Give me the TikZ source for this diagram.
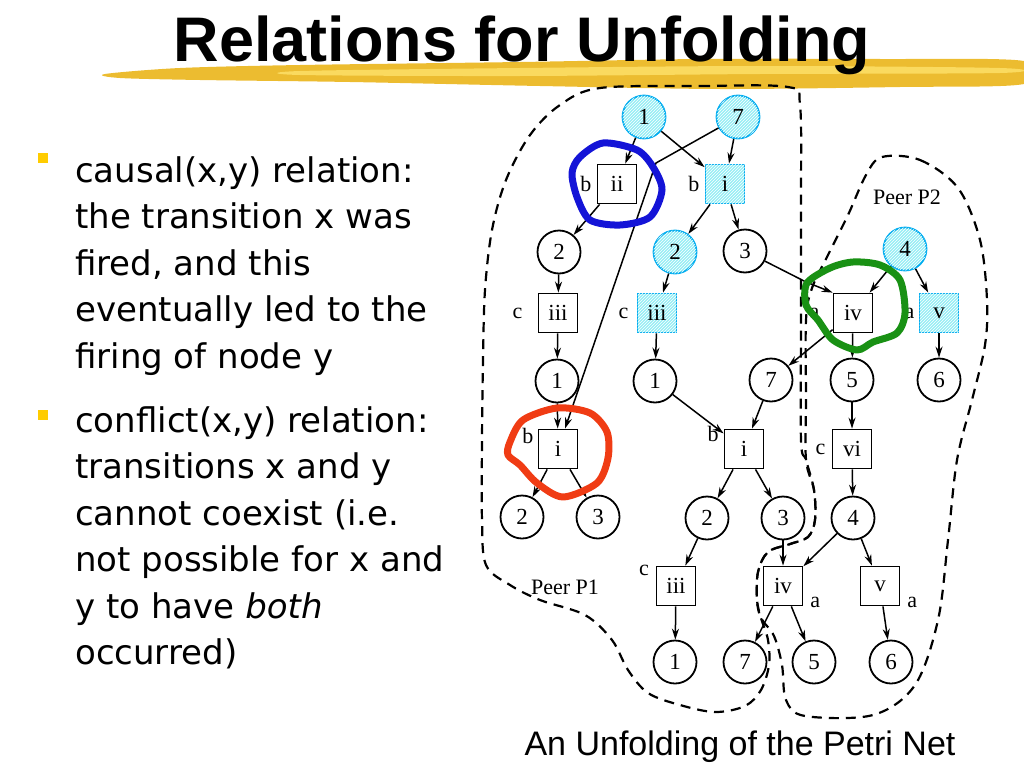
\documentclass[tikz,border=0pt]{standalone}
\usepackage{fontspec}
\setmainfont{Liberation Serif}
\newfontfamily\titlefont{Liberation Sans}
\newfontfamily\bodyfont{DejaVu Sans}
\usetikzlibrary{arrows.meta,patterns}

\definecolor{markcyan}{RGB}{150,238,245}
\definecolor{brushgold}{RGB}{236,188,48}
\definecolor{brushlight}{RGB}{250,218,95}
\definecolor{bulletyellow}{RGB}{255,204,0}
\definecolor{scribbleblue}{RGB}{20,20,215}
\definecolor{scribblered}{RGB}{240,60,20}
\definecolor{scribblegreen}{RGB}{25,145,20}

\tikzset{
  place/.style={circle,draw,line width=1.8pt,minimum size=43pt,inner sep=0pt,font=\fontsize{23}{23}\selectfont},
  trans/.style={rectangle,draw,line width=1.8pt,minimum size=39pt,inner sep=0pt,font=\fontsize{23}{23}\selectfont},
  marked/.style={draw=cyan,fill=markcyan,postaction={pattern=north east lines,pattern color=white}},
  lbl/.style={font=\fontsize{22}{22}\selectfont,inner sep=1pt},
  arc/.style={-{Stealth[length=11pt,width=7pt]},line width=1.5pt},
  peer/.style={line width=2.2pt,dash pattern=on 10pt off 7pt},
  scribble/.style={line width=7pt,line cap=round,line join=round},
  bullettext/.style={anchor=base west,inner sep=0pt,font=\bodyfont\fontsize{34}{34}\selectfont},
}

\begin{document}
\begin{tikzpicture}[x=1pt,y=-1pt]
  \useasboundingbox (0,0) rectangle (1024,768);
  % brush stroke under the title
  \fill[brushgold] plot[smooth cycle] coordinates {(105,74) (180,68) (300,65) (520,62) (700,59) (880,59) (1024,61)
      (1024,84) (900,87) (720,89) (540,86) (350,82) (200,80) (120,78)};
  \fill[brushlight] plot[smooth cycle] coordinates {(300,71) (520,68) (760,66) (1000,68) (1000,73) (760,74) (520,76) (300,75)};
  \node[font=\titlefont\bfseries\fontsize{63}{63}\selectfont,anchor=base] (title) at (522,61) {Relations for Unfolding};

  % bullets
  \fill[bulletyellow] (38,153) rectangle (48,163);
  \fill[bulletyellow] (38,410) rectangle (48,420);
  \foreach \txt [count=\i from 0] in {{causal(x,y) relation:},{the transition x was},{fired, and this},
      {eventually led to the},{firing of node y}}
    \node[bullettext] (ca\i) at (75,{182+46.5*\i}) {\txt};
  \foreach \txt [count=\i from 0] in {{conflict(x,y) relation:},{transitions x and y},{cannot coexist (i.e.},
      {not possible for x and},{y to have \textit{both}},{occurred)}}
    \node[bullettext] (cb\i) at (75,{432+46.5*\i}) {\txt};
  \node[font=\titlefont\fontsize{34}{34}\selectfont,anchor=base] (caption) at (740,755) {An Unfolding of the Petri Net};

  % peers
  \draw[peer] plot[smooth cycle,tension=0.55] coordinates {(600,88) (700,86) (788,87) (800,105) (801,200) (801,320)
      (801,440) (806,460) (814,490) (815,520) (808,537) (790,544) (768,552) (758,572) (757,600) (761,618)
      (768,640) (769,665) (761,690) (745,706) (715,712) (680,705) (648,693) (628,670) (612,640) (585,615)
      (540,600) (510,585) (486,565) (482,520) (482,440) (483,360) (485,290) (492,230) (506,180) (530,135) (560,105)};
  \node[lbl] (peerone) at (565,587) {Peer P1};
  \draw[peer] plot[smooth cycle,tension=0.55] coordinates {(882,157) (920,160) (958,188) (980,240) (987,300)
      (985,345) (972,400) (957,460) (948,540) (938,620) (915,685) (873,715) (805,716) (786,700) (782,665)
      (774,636) (761,618) (757,600) (758,572) (768,552) (790,544) (808,537) (815,520) (814,490) (806,460)
      (806,400) (806,320) (812,288) (828,255) (848,215) (866,175)};
  \node[lbl] (peertwo) at (907,197) {Peer P2};

  % places and transitions
  \node[place,marked] (p1t) at (644,117) {1};
  \node[place,marked] (p7t) at (738,117) {7};
  \node[trans,label={[lbl,label distance=4pt]left:b}] (tii) at (617,184) {ii};
  \node[trans,marked,label={[lbl,label distance=4pt]left:b}] (tic) at (725,184) {i};
  \node[place] (p2a) at (559,252) {2};
  \node[place,marked] (p2c) at (675,252) {2};
  \node[place] (p3a) at (745,251) {3};
  \node[place,marked] (p4c) at (905,249) {4};
  \node[trans,label={[lbl,label distance=14pt]left:c}] (tiiia) at (558,313) {iii};
  \node[trans,marked,label={[lbl,label distance=7pt]left:c}] (tiiic) at (657,313) {iii};
  \node[trans,label={[lbl,label distance=12pt]left:a}] (tiva) at (853,313) {iv};
  \node[trans,marked,label={[lbl,label distance=3pt]left:a}] (tvc) at (939,313) {v};
  \node[place] (p1a) at (557,381) {1};
  \node[place] (p1b) at (655,381) {1};
  \node[place] (p7a) at (771,380) {7};
  \node[place] (p5a) at (852,380) {5};
  \node[place] (p6a) at (939,380) {6};
  \node[trans,label={[lbl,label distance=3pt]170:b}] (tia) at (558,449) {i};
  \node[trans,label={[lbl,label distance=4pt]165:b}] (tib) at (744,449) {i};
  \node[trans,label={[lbl,label distance=5pt]left:c}] (tvi) at (852,449) {vi};
  \node[place] (p2b) at (522,517) {2};
  \node[place] (p3b) at (598,517) {3};
  \node[place] (p2d) at (707,518) {2};
  \node[place] (p3d) at (783,518) {3};
  \node[place] (p4a) at (853,518) {4};
  \node[trans,label={[lbl,label distance=6pt]160:c}] (tiiib) at (676,586) {iii};
  \node[trans,label={[lbl,label distance=6pt]-20:a}] (tivb) at (783,586) {iv};
  \node[trans,label={[lbl,label distance=6pt]-20:a}] (tvb) at (880,586) {v};
  \node[place] (p1c) at (675,662) {1};
  \node[place] (p7c) at (745,662) {7};
  \node[place] (p5c) at (814,662) {5};
  \node[place] (p6c) at (891,662) {6};
  \coordinate (k7) at (656,163);
  \coordinate (k3) at (806,282);

  % arcs
  \draw[arc] (p1t) -- (tii);
  \draw[arc] (p1t) -- (tic);
  \draw[arc] (p7t) -- (tic);
  \draw[arc] (p7t) -- (k7) -- (tia);
  \draw[arc] (tii) -- (p2a);
  \draw[arc] (tic) -- (p2c);
  \draw[arc] (tic) -- (p3a);
  \draw[arc] (p2a) -- (tiiia);
  \draw[arc] (p2c) -- (tiiic);
  \draw[arc] (p3a) -- (k3) -- (tiva.north west);
  \draw[arc] (p4c) -- (tiva);
  \draw[arc] (p4c) -- (tvc);
  \draw[arc] (tiiia) -- (p1a);
  \draw[arc] (tiiic) -- (p1b);
  \draw[arc] (tiva) -- (p7a);
  \draw[arc] (tiva) -- (p5a);
  \draw[arc] (tvc) -- (p6a);
  \draw[arc] (p1a) -- (tia);
  \draw[arc] (p1b) -- (tib);
  \draw[arc] (p7a) -- (tib);
  \draw[arc] (p5a) -- (tvi);
  \draw[arc] (tia) -- (p2b);
  \draw[arc] (tia) -- (p3b);
  \draw[arc] (tib) -- (p2d);
  \draw[arc] (tib) -- (p3d);
  \draw[arc] (tvi) -- (p4a);
  \draw[arc] (p2d) -- (tiiib);
  \draw[arc] (p3d) -- (tivb);
  \draw[arc] (p4a) -- (tivb);
  \draw[arc] (p4a) -- (tvb);
  \draw[arc] (tiiib) -- (p1c);
  \draw[arc] (tivb) -- (p7c);
  \draw[arc] (tivb) -- (p5c);
  \draw[arc] (tvb) -- (p6c);

  % hand-drawn marks
  \draw[scribble,scribbleblue] plot[smooth cycle] coordinates {(580,157) (603,143) (637,150) (653,167) (662,190)
      (650,217) (620,225) (590,220) (577,197) (572,173)};
  \draw[scribble,scribblered] plot[smooth cycle] coordinates {(510,442) (523,420) (557,408) (590,413) (607,432)
      (608,458) (597,483) (563,497) (537,483) (520,465) (508,455)};
  \draw[scribble,scribblegreen] plot[smooth cycle] coordinates {(807,283) (830,268) (853,262) (880,265) (900,280)
      (905,313) (897,333) (873,342) (857,350) (833,340) (818,320) (806,305)};
\end{tikzpicture}
\end{document}
